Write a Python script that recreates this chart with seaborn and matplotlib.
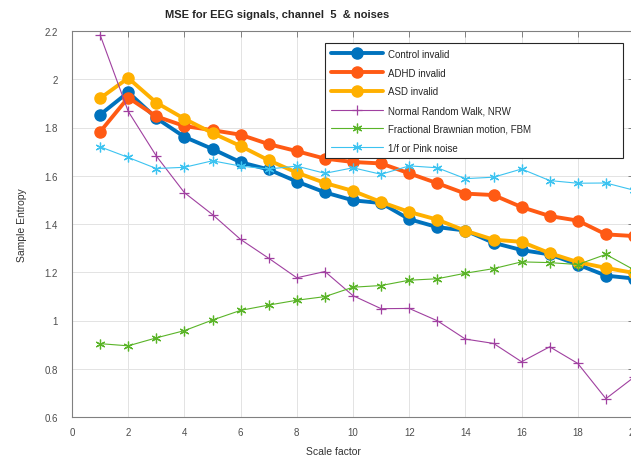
import numpy as np
import pandas as pd
import matplotlib
matplotlib.use('Agg')
import matplotlib.pyplot as plt
import seaborn as sns

# ─── DATA ─────────────────────────────────────────────────────────────────────
scale = list(range(1, 21))

control = [1.853, 1.946, 1.839, 1.761, 1.711, 1.656, 1.626, 1.576, 1.531, 1.498,
           1.487, 1.420, 1.387, 1.373, 1.322, 1.292, 1.274, 1.232, 1.186, 1.174]
adhd    = [1.782, 1.924, 1.846, 1.806, 1.789, 1.770, 1.731, 1.702, 1.671, 1.657,
           1.651, 1.610, 1.569, 1.526, 1.520, 1.470, 1.433, 1.414, 1.357, 1.350]
asd     = [1.921, 2.005, 1.903, 1.836, 1.777, 1.723, 1.664, 1.613, 1.570, 1.537,
           1.491, 1.450, 1.418, 1.372, 1.335, 1.326, 1.279, 1.242, 1.218, 1.197]
nrw     = [2.184, 1.867, 1.682, 1.530, 1.439, 1.336, 1.258, 1.177, 1.203, 1.103,
           1.049, 1.050, 0.999, 0.923, 0.905, 0.829, 0.891, 0.822, 0.676, 0.765]
fbm     = [0.904, 0.895, 0.928, 0.958, 1.002, 1.042, 1.064, 1.084, 1.099, 1.138,
           1.145, 1.167, 1.173, 1.196, 1.215, 1.243, 1.240, 1.232, 1.274, 1.210]
pink    = [1.720, 1.676, 1.630, 1.635, 1.662, 1.640, 1.628, 1.640, 1.610, 1.633,
           1.606, 1.641, 1.633, 1.588, 1.594, 1.628, 1.580, 1.569, 1.570, 1.540]

labels = ['Control invalid', 'ADHD invalid', 'ASD invalid',
          'Normal Random Walk, NRW', 'Fractional Brawnian motion, FBM',
          '1/f or Pink noise']
x_ticks = list(range(0, 21, 2))
y_ticks = [0.6, 0.8, 1.0, 1.2, 1.4, 1.6, 1.8, 2.0, 2.2]
y_tick_labels = ['0.6', '0.8', '1', '1.2', '1.4', '1.6', '1.8', '2', '2.2']

# ─── STYLE ────────────────────────────────────────────────────────────────────
sns.set_style('white')
plt.rcParams['font.family'] = ['Liberation Sans', 'DejaVu Sans']

asterisk = (6, 2, 0)
styles = [
    dict(color='#0072BD', lw=2.8, marker='o', ms=8),
    dict(color='#FF5A14', lw=2.8, marker='o', ms=8),
    dict(color='#FFB000', lw=2.8, marker='o', ms=8),
    dict(color='#A040A0', lw=0.8, marker='+', ms=7, mew=0.9),
    dict(color='#5AB428', lw=0.8, marker=asterisk, ms=7, mew=0.9),
    dict(color='#3CC3F0', lw=0.8, marker=asterisk, ms=7, mew=0.9),
]
series = [control, adhd, asd, nrw, fbm, pink]

fig = plt.figure(figsize=(6.31, 4.60), dpi=100)
ax = fig.add_axes([72 / 631, 42 / 460, 562 / 631, 386 / 460])

for vals, lab, st in zip(series, labels, styles):
    df = pd.DataFrame({'scale': scale, 'se': vals})
    sns.lineplot(data=df, x='scale', y='se', ax=ax, label=lab,
                 color=st['color'], linewidth=st['lw'], marker=st['marker'],
                 markersize=st['ms'], markeredgewidth=st.get('mew', 1.0),
                 markeredgecolor=st['color'], markerfacecolor=st['color'])

ax.set_xlim(0, 20)
ax.set_ylim(0.6, 2.2)
ax.set_xticks(x_ticks)
ax.set_yticks(y_ticks)
ax.set_yticklabels(y_tick_labels)
ax.grid(True, color='#e3e3e3', linewidth=0.7)
ax.tick_params(direction='in', length=4, width=0.7, colors='#808080',
               labelcolor='#4d4d4d', labelsize=7, top=True, right=True)
ax.tick_params(axis='x', pad=7)
ax.tick_params(axis='y', pad=10)
for sp in ax.spines.values():
    sp.set_color('#808080')
    sp.set_linewidth(0.8)

ax.set_xlabel('Scale factor', fontsize=7.5, color='#333333', va='center')
ax.set_ylabel('Sample Entropy', fontsize=7.5, color='#333333', va='center')
ax.xaxis.set_label_coords((333 - 72) / 562, (418 - 452) / 386)
ax.yaxis.set_label_coords((22 - 72) / 562, 0.5)

fig.text(277 / 631, 1 - 15 / 460, 'MSE for EEG signals, channel  5  & noises',
         ha='center', va='center', fontsize=8, fontweight='bold')

leg = ax.legend(loc='upper left', mode='expand',
                bbox_to_anchor=(325 / 631, 1 - 159 / 460, 298 / 631, 115 / 460),
                bbox_transform=fig.transFigure, fontsize=7, frameon=True,
                fancybox=False, framealpha=1, edgecolor='#262626',
                handlelength=5.4, handletextpad=0.5, labelspacing=0.9,
                borderpad=0.6, borderaxespad=0)
leg.get_frame().set_linewidth(0.8)

fig.savefig('out.png', dpi=100)
